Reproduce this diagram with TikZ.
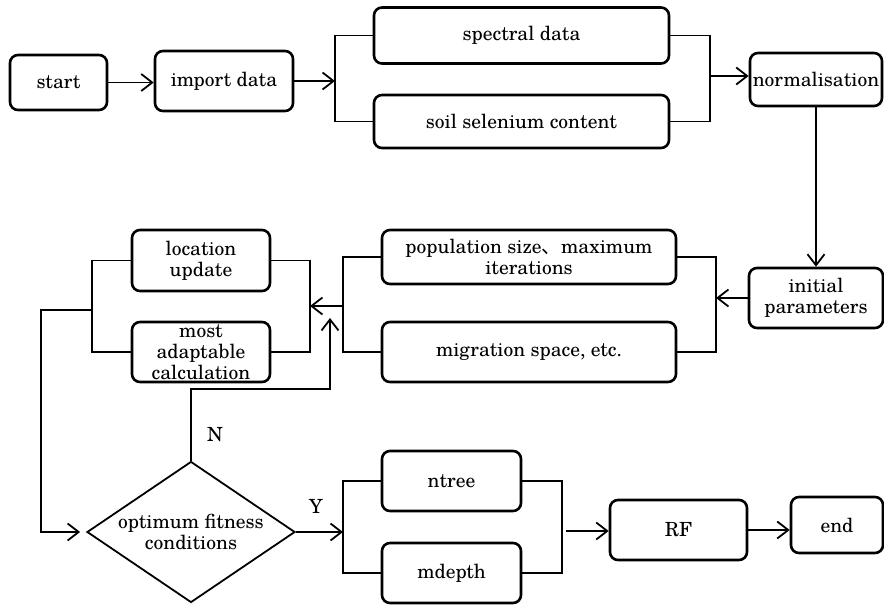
\documentclass[tikz,border=0pt]{standalone}
\usepackage{fontspec}
\setmainfont{TeX Gyre Schola}
\newfontfamily\cjk{Noto Sans CJK SC}
\usetikzlibrary{arrows.meta,shapes.geometric}
\begin{document}
\begin{tikzpicture}[x=1pt,y=-1pt,
  box/.style={draw, line width=2.6pt, rounded corners=8pt, align=center, inner sep=0pt,
    font=\fontsize{19.5}{21}\selectfont},
  lbl/.style={font=\fontsize{19.5}{21}\selectfont, align=center, inner sep=0pt},
  ln/.style={line width=1.8pt},
  arr/.style={ln, -{Straight Barb[length=11pt,width=17pt,line width=1.8pt]}},
]
\useasboundingbox (0,0) rectangle (884,605);

% nodes
\node[box, minimum width=97pt, minimum height=55pt] (start) at (58.5,82.5) {start};
\node[box, minimum width=138pt, minimum height=60pt] (imp) at (224,81) {import data};
\node[box, minimum width=295pt, minimum height=56pt] (spec) at (521.5,35.5) {spectral data};
\node[box, minimum width=295pt, minimum height=53pt] (soil) at (521.5,121.5) {soil selenium content};
\node[box, minimum width=132pt, minimum height=53pt] (norm) at (816,79.5) {normalisation};
\node[box, minimum width=134pt, minimum height=60pt] (init) at (816,298) {initial\\parameters};
\node[box, minimum width=294pt, minimum height=54pt] (pop) at (529,257) {population size{\cjk 、}maximum\\iterations};
\node[box, minimum width=294pt, minimum height=60pt] (mig) at (529,352) {migration space, etc.};
\node[box, minimum width=138pt, minimum height=61pt] (loc) at (201,260.5) {location\\update};
\node[box, minimum width=138pt, minimum height=60pt] (most) at (201,352) {most\\adaptable\\calculation};
\node[box, minimum width=139pt, minimum height=60pt] (ntree) at (451.5,481) {ntree};
\node[box, minimum width=139pt, minimum height=60pt] (mdepth) at (451.5,573) {mdepth};
\node[box, minimum width=137pt, minimum height=60pt] (rf) at (678.5,530) {RF};
\node[box, minimum width=92pt, minimum height=56pt] (end) at (837,525) {end};
\node[diamond, draw, line width=1.8pt, inner sep=0pt, minimum width=208pt, minimum height=141pt] (cond) at (191,532) {};
\node[lbl] (condtxt) at (cond) {optimum fitness\\conditions};
\node[lbl] (nlab) at (215,435) {N};
\node[lbl] (ylab) at (316,506) {Y};

% bracket coordinates
\coordinate (b1) at (335,80);
\coordinate (b2) at (710,76);
\coordinate (b3) at (716,299);
\coordinate (b4) at (343,306);
\coordinate (b5) at (310,306);
\coordinate (b6) at (92,310);
\coordinate (b7) at (41,310);
\coordinate (b8) at (343,529);
\coordinate (b9) at (562,531);
\coordinate (n1) at (330,318);

% connectors
\draw[arr] (start.east) -- (start.east -| imp.west);
\draw[arr] (imp.east) -- (imp.east -| b1);
\draw[ln] (spec.west) -| (b1) |- (soil.west);
\draw[ln] (spec.east) -| (b2) |- (soil.east);
\draw[arr] (b2) -- (b2 -| norm.west);
\draw[arr] (norm.south) -- (init.north);
\draw[ln] (pop.east) -| (b3) |- (mig.east);
\draw[arr] (init.west) -- (init.west -| b3);
\draw[ln] (pop.west) -| (b4) |- (mig.west);
\draw[arr] (b4) -- (b5);
\draw[ln] (loc.east) -| (b5) |- (most.east);
\draw[ln] (loc.west) -| (b6) |- (most.west);
\draw[arr] (b6) -- (b7) |- ([xshift=-6pt]cond.west);
\draw[arr] (cond.north) -- ++(0,-72) -| (n1);
\draw[ln] (ntree.west) -| (b8) |- (mdepth.west);
\draw[arr] (cond.east) -- (cond.east -| b8);
\draw[ln] (ntree.east) -| (b9) |- (mdepth.east);
\draw[arr] ([xshift=4pt]b9) -- (b9 -| rf.west);
\draw[arr] (rf.east) -- (rf.east -| end.west);
\end{tikzpicture}
\end{document}
